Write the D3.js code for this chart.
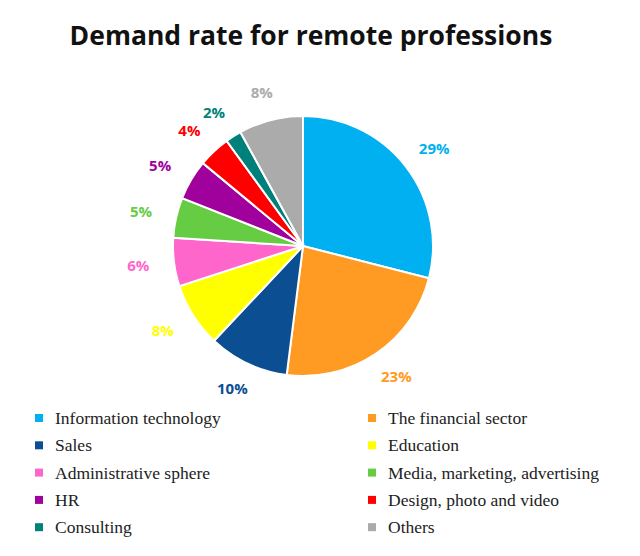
<!DOCTYPE html>
<html>
<head>
<meta charset="utf-8">
<script src="https://cdn.jsdelivr.net/npm/d3@7"></script>
<style>
  body { margin: 0; background: #fff; }
  svg { display: block; }
</style>
</head>
<body>
<svg></svg>
<script>
const width = 640, height = 556;

const categories = ["Information technology", "The financial sector", "Sales", "Education",
    "Administrative sphere", "Media, marketing, advertising", "HR", "Design, photo and video",
    "Consulting", "Others"];
const values = [29, 23, 10, 8, 6, 5, 5, 4, 2, 8];
const colors = ["#00B0F0", "#FF9A22", "#0B4F92", "#FFFF00", "#FF66CC", "#66CC44",
    "#A0009C", "#FF0000", "#00807A", "#ABABAB"];

const data = categories.map((c, i) => ({name: c, value: values[i], color: colors[i]}));

const svg = d3.select('svg')
    .attr('width', width)
    .attr('height', height);

svg.append('text')
    .attr('x', 311)
    .attr('y', 45)
    .attr('text-anchor', 'middle')
    .style('font-family', '"Open Sans", sans-serif')
    .style('font-weight', 'bold')
    .style('font-size', '26.5px')
    .style('fill', '#111')
    .text('Demand rate for remote professions');

const cx = 303, cy = 246, radius = 130;

const pie = d3.pie().sort(null).value(function (d) { return d.value });
const arc = d3.arc().innerRadius(0).outerRadius(radius);
const labelR = 158;

const g = svg.append('g').attr('transform', `translate(${cx},${cy})`);
const arcs = pie(data);

g.selectAll('.slice')
    .data(arcs)
    .enter().append('path')
    .attr('class', 'slice')
    .attr('d', arc)
    .style('fill', function (d) { return d.data.color })
    .style('stroke', '#fff')
    .style('stroke-width', 2);

// labels sit just outside the rim, pushed a bit sideways like Excel's "outside end"
g.selectAll('.label')
    .data(arcs)
    .enter().append('text')
    .attr('class', 'label')
    .attr('transform', function (d) {
        const a = (d.startAngle + d.endAngle) / 2;
        const x = Math.sin(a) * (labelR + 8);
        const y = -Math.cos(a) * labelR;
        return `translate(${x},${y})`;
    })
    .attr('text-anchor', 'middle')
    .attr('dy', '0.35em')
    .style('font-family', '"Open Sans", sans-serif')
    .style('font-weight', 'bold')
    .style('font-size', '15px')
    .style('fill', function (d) { return d.data.color })
    .text(function (d) { return d.data.value + '%' });

// legend, two columns
const legend = svg.append('g')
    .selectAll('.legend')
    .data(data)
    .enter().append('g')
    .attr('class', 'legend')
    .attr('transform', function (d, i) {
        const col = i % 2, row = Math.floor(i / 2);
        return `translate(${col ? 368 : 35},${418 + row * 27.3})`;
    });

legend.append('rect')
    .attr('x', 0)
    .attr('y', -4)
    .attr('width', 8)
    .attr('height', 8)
    .style('fill', function (d) { return d.color });

legend.append('text')
    .attr('x', 20)
    .attr('dy', '0.35em')
    .style('font-family', '"Liberation Serif", serif')
    .style('font-size', '17.5px')
    .style('fill', '#222')
    .text(function (d) { return d.name });
</script>
</body>
</html>
